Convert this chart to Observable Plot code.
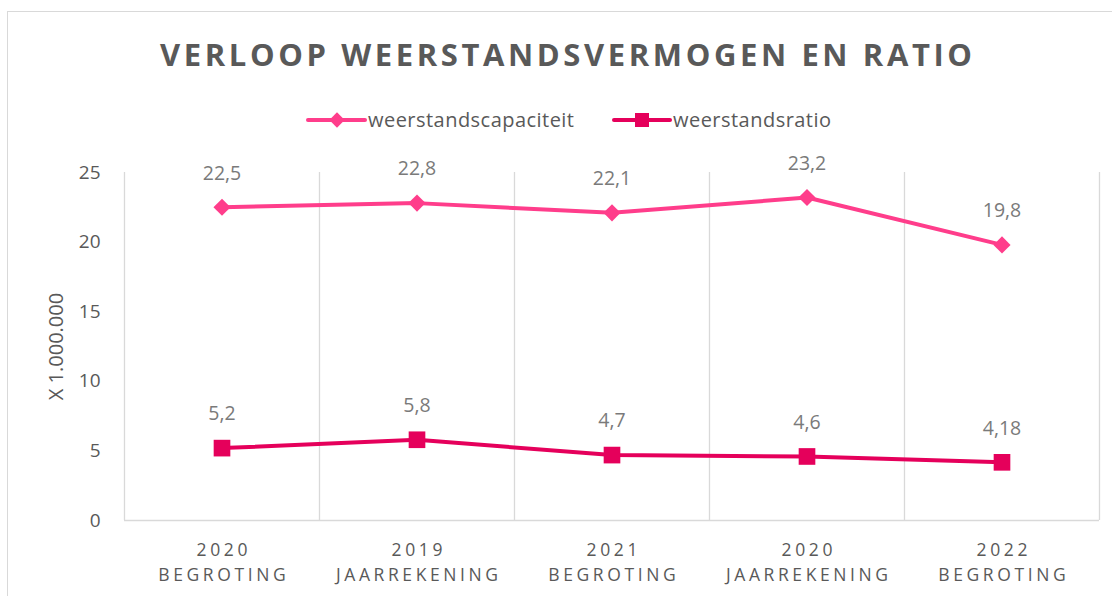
<!DOCTYPE html>
<html>
<head>
<meta charset="utf-8">
<script src="https://cdn.jsdelivr.net/npm/d3@7"></script>
<script src="https://cdn.jsdelivr.net/npm/@observablehq/plot@0.6"></script>
<style>
  html, body { margin: 0; padding: 0; background: #fff; width: 1112px; height: 596px; overflow: hidden; }
  body { font-family: "Open Sans", sans-serif; position: relative; }
  #frame { position: absolute; left: 7px; top: 11px; width: 1130px; height: 620px; border: 1px solid #d9d9d9; box-sizing: border-box; }
  #title { position: absolute; left: 0; top: 32px; width: 1132px; text-align: center; font-weight: 700; font-size: 31px; color: #595959; white-space: nowrap; line-height: 44px; }
  #legend { position: absolute; left: 0; top: 104px; width: 1112px; height: 32px; }
  #chart { position: absolute; left: 0; top: 140px; }
  .xlab text { letter-spacing: 3.6px; }
</style>
</head>
<body>
<div id="frame"></div>
<div id="title">VERLOOP WEERSTANDSVERMOGEN EN RATIO</div>
<div id="legend"></div>
<div id="chart"></div>
<script>
const years = ["2020", "2019", "2021", "2020", "2022"];
const kinds = ["BEGROTING", "JAARREKENING", "BEGROTING", "JAARREKENING", "BEGROTING"];
const capaciteit = [22.5, 22.8, 22.1, 23.2, 19.8];
const ratio = [5.2, 5.8, 4.7, 4.6, 4.18];
const capLabels = ["22,5", "22,8", "22,1", "23,2", "19,8"];
const ratioLabels = ["5,2", "5,8", "4,7", "4,6", "4,18"];
const yTicks = [0, 5, 10, 15, 20, 25];
const yLabel = "X 1.000.000";
const seriesNames = ["weerstandscapaciteit", "weerstandsratio"];
const colCap = "#ff3d8b";
const colRatio = "#e5005b";

const idx = years.map((_, i) => i);
const capData = idx.map(i => ({i, v: capaciteit[i], label: capLabels[i]}));
const ratioData = idx.map(i => ({i, v: ratio[i], label: ratioLabels[i]}));
const bounds = [-0.5, ...idx.map(i => i + 0.5)];
const catLabels = idx.map(i => years[i] + "\n" + kinds[i]);

function fitSpacing(el, font, target) {
  const c = document.createElement("canvas").getContext("2d");
  c.font = font;
  const txt = el.textContent;
  const w = c.measureText(txt).width;
  return (target - w) / (txt.length - 1);
}

// Title letter spacing to fit reference width
(function () {
  const t = document.getElementById("title");
  const ls = fitSpacing(t, "700 31px 'Open Sans'", 812);
  t.style.letterSpacing = ls + "px";
  t.style.textIndent = ls + "px";
})();

// Legend
(function () {
  const svg = d3.select("#legend").append("svg").attr("width", 1112).attr("height", 32);
  const cy = 16;
  const items = [
    {name: seriesNames[0], color: colCap, sym: d3.symbolDiamond2, size: 150, x1: 308, x2: 365, sx: 337, tx: 368, tw: 206},
    {name: seriesNames[1], color: colRatio, sym: d3.symbolSquare, size: 196, x1: 614, x2: 670, sx: 642, tx: 673, tw: 158}
  ];
  const c = document.createElement("canvas").getContext("2d");
  c.font = "20px 'Open Sans'";
  for (const it of items) {
    const g = svg.append("g");
    g.append("line").attr("x1", it.x1).attr("x2", it.x2).attr("y1", cy).attr("y2", cy).attr("stroke", it.color).attr("stroke-width", 4).attr("stroke-linecap", "round");
    g.append("path").attr("d", d3.symbol(it.sym, it.size)()).attr("transform", `translate(${it.sx},${cy})`).attr("fill", it.color);
    const w = c.measureText(it.name).width;
    const ls = (it.tw - w) / (it.name.length - 1);
    g.append("text").attr("x", it.tx).attr("y", cy).attr("dy", "0.35em").attr("font-size", 20)
      .attr("letter-spacing", ls + "px").attr("fill", "#595959").attr("font-family", "Open Sans").text(it.name);
  }
})();

const chart = Plot.plot({
  width: 1112,
  height: 456,
  marginLeft: 124,
  marginRight: 13,
  marginTop: 32,
  marginBottom: 76,
  style: { fontFamily: "Open Sans", background: "transparent", overflow: "visible" },
  x: { type: "linear", domain: [-0.5, 4.5], axis: null },
  y: { domain: [0, 25], axis: null },
  marks: [
    Plot.ruleX(bounds, { y1: 0, y2: 25, stroke: "#d9d9d9", strokeWidth: 1.3 }),
    Plot.ruleY([0], { stroke: "#d9d9d9", strokeWidth: 1.5 }),
    Plot.axisY({ ticks: yTicks, tickSize: 0, tickPadding: 24, fontSize: 19, color: "#595959", label: null }),
    Plot.text([yLabel], { text: d => d, frameAnchor: "left", textAnchor: "middle", rotate: -90, dx: -68, fontSize: 20, fill: "#595959" }),
    Plot.text(idx, {
      x: d => d, y: 0, text: d => catLabels[d], dy: 17, dx: 1.8,
      lineAnchor: "top", lineHeight: 1.45, fontSize: 17.5, fill: "#595959",
      className: "xlab"
    }),
    Plot.line(capData, { x: "i", y: "v", stroke: colCap, strokeWidth: 4 }),
    Plot.line(ratioData, { x: "i", y: "v", stroke: colRatio, strokeWidth: 4 }),
    Plot.dot(capData, { x: "i", y: "v", symbol: "diamond2", r: 7.7, fill: colCap, stroke: "none" }),
    Plot.dot(ratioData, { x: "i", y: "v", symbol: "square", r: 9.4, fill: colRatio, stroke: "none" }),
    Plot.text(capData, { x: "i", y: "v", text: "label", dy: -34, fontSize: 19.5, fill: "#7a7a7a" }),
    Plot.text(ratioData, { x: "i", y: "v", text: "label", dy: -34, fontSize: 19.5, fill: "#7a7a7a" })
  ]
});
document.getElementById("chart").appendChild(chart);
</script>
</body>
</html>
